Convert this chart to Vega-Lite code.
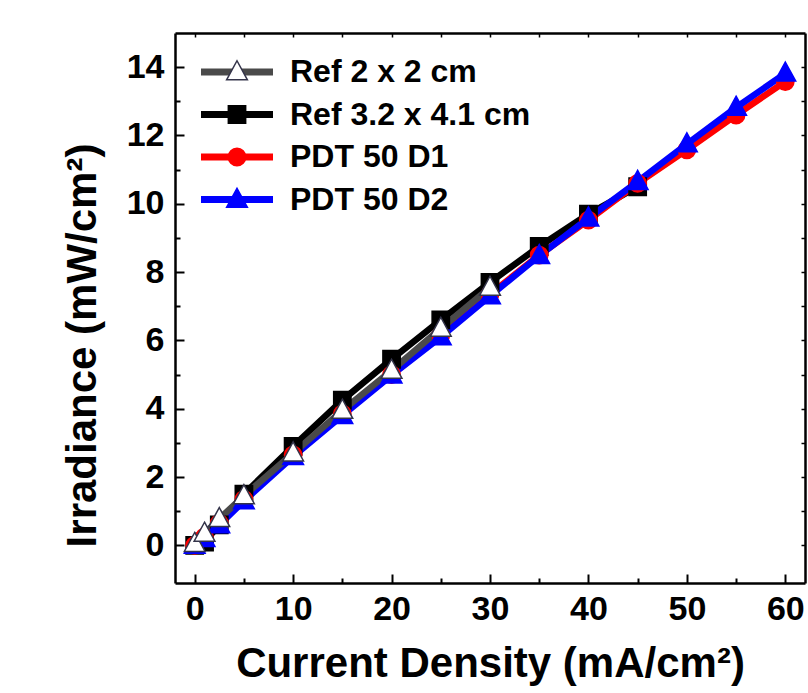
{
  "$schema": "https://vega.github.io/schema/vega-lite/v6.json",
  "width": 630,
  "height": 550,
  "autosize": {"type": "none"},
  "padding": {"left": 175, "top": 33, "right": 3, "bottom": 110},
  "background": "white",
  "config": {
    "font": "Liberation Sans",
    "view": {"stroke": null},
    "axis": {"grid": false}
  },
  "data": {
    "values": [
      {"series": "Ref 3.2 x 4.1 cm", "current": 0, "irradiance": 0.0},
      {"series": "Ref 3.2 x 4.1 cm", "current": 1, "irradiance": 0.1},
      {"series": "Ref 3.2 x 4.1 cm", "current": 2.5, "irradiance": 0.6},
      {"series": "Ref 3.2 x 4.1 cm", "current": 5, "irradiance": 1.5},
      {"series": "Ref 3.2 x 4.1 cm", "current": 10, "irradiance": 2.9},
      {"series": "Ref 3.2 x 4.1 cm", "current": 15, "irradiance": 4.25},
      {"series": "Ref 3.2 x 4.1 cm", "current": 20, "irradiance": 5.45},
      {"series": "Ref 3.2 x 4.1 cm", "current": 25, "irradiance": 6.6},
      {"series": "Ref 3.2 x 4.1 cm", "current": 30, "irradiance": 7.7},
      {"series": "Ref 3.2 x 4.1 cm", "current": 35, "irradiance": 8.75},
      {"series": "Ref 3.2 x 4.1 cm", "current": 40, "irradiance": 9.7},
      {"series": "Ref 3.2 x 4.1 cm", "current": 45, "irradiance": 10.5},
      {"series": "PDT 50 D1", "current": 0, "irradiance": 0.0},
      {"series": "PDT 50 D1", "current": 1, "irradiance": 0.25},
      {"series": "PDT 50 D1", "current": 2.5, "irradiance": 0.65},
      {"series": "PDT 50 D1", "current": 5, "irradiance": 1.35},
      {"series": "PDT 50 D1", "current": 10, "irradiance": 2.65},
      {"series": "PDT 50 D1", "current": 15, "irradiance": 3.85},
      {"series": "PDT 50 D1", "current": 20, "irradiance": 5.0},
      {"series": "PDT 50 D1", "current": 25, "irradiance": 6.15},
      {"series": "PDT 50 D1", "current": 30, "irradiance": 7.35},
      {"series": "PDT 50 D1", "current": 35, "irradiance": 8.5},
      {"series": "PDT 50 D1", "current": 40, "irradiance": 9.52},
      {"series": "PDT 50 D1", "current": 45, "irradiance": 10.6},
      {"series": "PDT 50 D1", "current": 50, "irradiance": 11.58},
      {"series": "PDT 50 D1", "current": 55, "irradiance": 12.6},
      {"series": "PDT 50 D1", "current": 60, "irradiance": 13.58},
      {"series": "PDT 50 D2", "current": 0, "irradiance": 0.0},
      {"series": "PDT 50 D2", "current": 1, "irradiance": 0.2},
      {"series": "PDT 50 D2", "current": 2.5, "irradiance": 0.6},
      {"series": "PDT 50 D2", "current": 5, "irradiance": 1.3},
      {"series": "PDT 50 D2", "current": 10, "irradiance": 2.6},
      {"series": "PDT 50 D2", "current": 15, "irradiance": 3.8},
      {"series": "PDT 50 D2", "current": 20, "irradiance": 4.98},
      {"series": "PDT 50 D2", "current": 25, "irradiance": 6.1},
      {"series": "PDT 50 D2", "current": 30, "irradiance": 7.3},
      {"series": "PDT 50 D2", "current": 35, "irradiance": 8.48},
      {"series": "PDT 50 D2", "current": 40, "irradiance": 9.58},
      {"series": "PDT 50 D2", "current": 45, "irradiance": 10.65},
      {"series": "PDT 50 D2", "current": 50, "irradiance": 11.75},
      {"series": "PDT 50 D2", "current": 55, "irradiance": 12.82},
      {"series": "PDT 50 D2", "current": 60, "irradiance": 13.82},
      {"series": "Ref 2 x 2 cm", "current": 0, "irradiance": 0.05},
      {"series": "Ref 2 x 2 cm", "current": 1, "irradiance": 0.35},
      {"series": "Ref 2 x 2 cm", "current": 2.5, "irradiance": 0.78},
      {"series": "Ref 2 x 2 cm", "current": 5, "irradiance": 1.45},
      {"series": "Ref 2 x 2 cm", "current": 10, "irradiance": 2.7},
      {"series": "Ref 2 x 2 cm", "current": 15, "irradiance": 3.95},
      {"series": "Ref 2 x 2 cm", "current": 20, "irradiance": 5.12},
      {"series": "Ref 2 x 2 cm", "current": 25, "irradiance": 6.35},
      {"series": "Ref 2 x 2 cm", "current": 30, "irradiance": 7.55}
    ]
  },
  "layer": [
    {
      "mark": {"type": "line", "strokeWidth": 6.5},
      "encoding": {
        "x": {
          "field": "current", "type": "quantitative",
          "scale": {"domain": [-2, 62], "nice": false, "zero": false},
          "axis": {
            "orient": "bottom",
            "values": [0, 5, 10, 15, 20, 25, 30, 35, 40, 45, 50, 55, 60],
            "labelExpr": "datum.value % 10 === 0 ? datum.label : ''",
            "tickSize": {"condition": {"test": "datum.value % 10 === 0", "value": -9}, "value": -5},
            "tickColor": "black", "tickWidth": 2,
            "domainColor": "black", "domainWidth": 2.5,
            "labelFont": "Liberation Sans", "labelFontSize": 34, "labelFontWeight": "bold",
            "labelColor": "black", "labelPadding": 18, "labelFlush": false, "labelOverlap": false,
            "title": "Current Density (mA/cm²)",
            "titleFont": "Liberation Sans", "titleFontSize": 42, "titleFontWeight": "bold",
            "titleColor": "black", "titleBaseline": "alphabetic", "titleY": 93, "titleX": 315
          }
        },
        "y": {
          "field": "irradiance", "type": "quantitative",
          "scale": {"domain": [-1.1, 15], "nice": false, "zero": false},
          "axis": {
            "orient": "left",
            "values": [0, 1, 2, 3, 4, 5, 6, 7, 8, 9, 10, 11, 12, 13, 14],
            "labelExpr": "datum.value % 2 === 0 ? datum.label : ''",
            "tickSize": {"condition": {"test": "datum.value % 2 === 0", "value": -9}, "value": -5},
            "tickColor": "black", "tickWidth": 2,
            "domainColor": "black", "domainWidth": 2.5,
            "labelFont": "Liberation Sans", "labelFontSize": 34, "labelFontWeight": "bold",
            "labelColor": "black", "labelPadding": 20, "labelFlush": false, "labelOverlap": false,
            "title": "Irradiance (mW/cm²)",
            "titleFont": "Liberation Sans", "titleFontSize": 42, "titleFontWeight": "bold",
            "titleColor": "black", "titleBaseline": "alphabetic", "titleAngle": -90,
            "titleX": -80, "titleY": 312
          }
        },
        "color": {
          "field": "series", "type": "nominal",
          "sort": ["Ref 2 x 2 cm", "Ref 3.2 x 4.1 cm", "PDT 50 D1", "PDT 50 D2"],
          "scale": {"range": ["#4a4a4a", "#000000", "#ff0000", "#0000ff"]},
          "legend": {
            "orient": "none", "legendX": 46, "legendY": 23, "title": null, "padding": 0,
            "symbolType": "M-6,0L6,0", "symbolSize": 144, "symbolStrokeWidth": 7,
            "labelFont": "Liberation Sans", "labelFontSize": 32, "labelFontWeight": "bold",
            "labelColor": "black", "labelLimit": 400, "labelOffset": 37, "rowPadding": 10.5
          }
        }
      }
    },
    {
      "mark": {"type": "point", "size": 300, "opacity": 1, "strokeWidth": 1.5},
      "encoding": {
        "x": {
          "field": "current", "type": "quantitative",
          "scale": {"domain": [-2, 62], "nice": false, "zero": false},
          "axis": {
            "orient": "top", "labels": false, "title": null,
            "values": [0, 5, 10, 15, 20, 25, 30, 35, 40, 45, 50, 55, 60],
            "tickSize": -4, "tickColor": "black", "tickWidth": 1.5,
            "domainColor": "black", "domainWidth": 2.5
          }
        },
        "y": {
          "field": "irradiance", "type": "quantitative",
          "scale": {"domain": [-1.1, 15], "nice": false, "zero": false},
          "axis": {
            "orient": "right", "labels": false, "title": null,
            "values": [0, 1, 2, 3, 4, 5, 6, 7, 8, 9, 10, 11, 12, 13, 14],
            "tickSize": -4, "tickColor": "black", "tickWidth": 1.5,
            "domainColor": "black", "domainWidth": 2.5
          }
        },
        "fill": {
          "field": "series", "type": "nominal",
          "scale": {"domain": ["Ref 2 x 2 cm", "Ref 3.2 x 4.1 cm", "PDT 50 D1", "PDT 50 D2"], "range": ["#ffffff", "#000000", "#ff0000", "#0000ff"]},
          "legend": {
            "orient": "none", "legendX": 46, "legendY": 23, "title": null, "padding": 0,
            "symbolSize": 300, "symbolStrokeWidth": 1.5,
            "labelFont": "Liberation Sans", "labelFontSize": 32, "labelFontWeight": "bold",
            "labelOpacity": 0, "labelLimit": 400, "labelOffset": 37, "rowPadding": 10.5
          }
        },
        "stroke": {
          "field": "series", "type": "nominal",
          "scale": {"domain": ["Ref 2 x 2 cm", "Ref 3.2 x 4.1 cm", "PDT 50 D1", "PDT 50 D2"], "range": ["#34344a", "#000000", "#ff0000", "#0000ff"]},
          "legend": {
            "orient": "none", "legendX": 46, "legendY": 23, "title": null, "padding": 0,
            "symbolSize": 300, "symbolStrokeWidth": 1.5,
            "labelFont": "Liberation Sans", "labelFontSize": 32, "labelFontWeight": "bold",
            "labelOpacity": 0, "labelLimit": 400, "labelOffset": 37, "rowPadding": 10.5
          }
        },
        "shape": {
          "field": "series", "type": "nominal",
          "scale": {"domain": ["Ref 2 x 2 cm", "Ref 3.2 x 4.1 cm", "PDT 50 D1", "PDT 50 D2"], "range": ["M0,-1.3L1.2,0.9L-1.2,0.9Z", "M-1,-1L1,-1L1,1L-1,1Z", "circle", "M0,-1.3L1.2,0.9L-1.2,0.9Z"]},
          "legend": {
            "orient": "none", "legendX": 46, "legendY": 23, "title": null, "padding": 0,
            "symbolSize": 300, "symbolStrokeWidth": 1.5,
            "labelFont": "Liberation Sans", "labelFontSize": 32, "labelFontWeight": "bold",
            "labelOpacity": 0, "labelLimit": 400, "labelOffset": 37, "rowPadding": 10.5
          }
        }
      }
    }
  ],
  "resolve": {"axis": {"x": "independent", "y": "independent"}}
}
